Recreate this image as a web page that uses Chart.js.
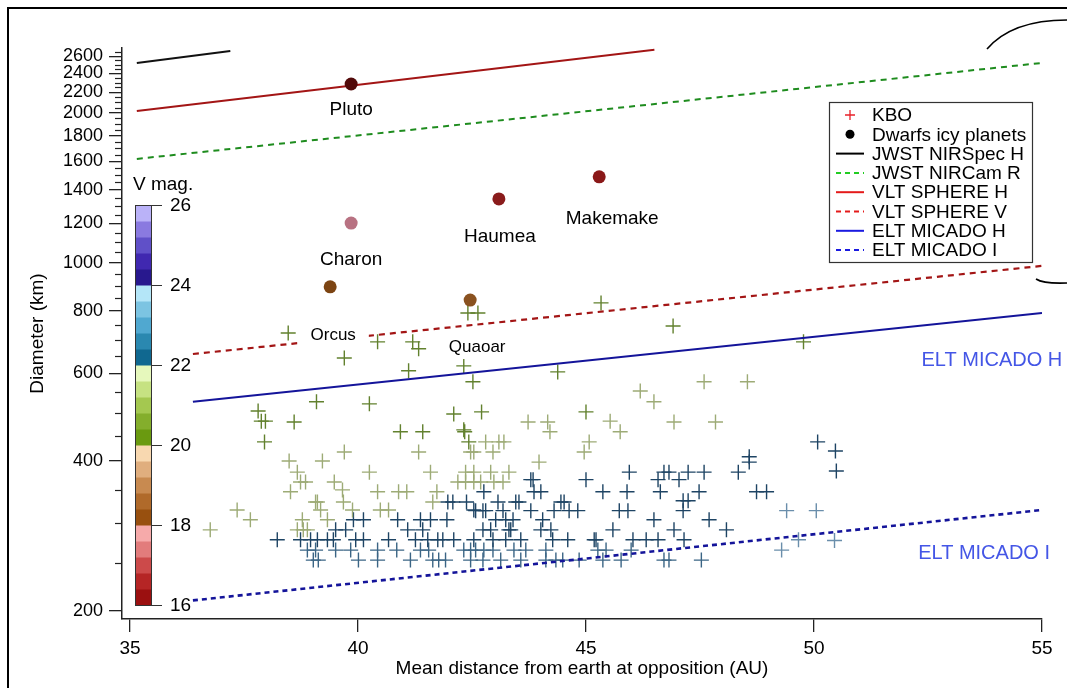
<!DOCTYPE html>
<html>
<head>
<meta charset="utf-8">
<script src="https://cdn.jsdelivr.net/npm/chart.js@4.4.1/dist/chart.umd.min.js"></script>
<style>
    html, body { margin: 0; padding: 0; background: #fff; }
    #wrap { position: relative; width: 1067px; height: 688px; overflow: hidden; }
    #frame { position: absolute; left: 7px; top: 7px; width: 1070px; height: 690px;
             border-left: 2px solid #000; border-top: 2px solid #000; pointer-events: none; }
</style>
</head>
<body>
<div id="wrap">
    <canvas id="graficoKbo" width="1067" height="688" style="width:1067px;height:688px"></canvas>
    <div id="frame"></div>
</div>
<script>
// axis ticks
const xTicks = [35, 40, 45, 50, 55];
const yTickLabels = [200, 400, 600, 800, 1000, 1200, 1400, 1600, 1800, 2000, 2200, 2400, 2600];

// dwarf icy planets: distance (AU), diameter (km)
const dwarfNames = ['Pluto', 'Charon', 'Orcus', 'Quaoar', 'Haumea', 'Makemake'];
const dwarfDist = [39.85, 39.85, 39.39, 42.46, 43.09, 45.29];
const dwarfDiam = [2286, 1202, 895, 842, 1344, 1488];

// detection limits [AU, km] endpoints
const nirspecH = [[35.15, 2520], [37.2, 2664]];
const nircamR = [[35.15, 1617], [55, 2520]];
const sphereH = [[35.15, 2018], [46.5, 2677]];
const sphereV = [[36.38, 656], [55, 986]];
const micadoH = [[36.38, 526], [55, 793]];
const micadoI = [[36.38, 210], [55, 319]];

// KBOs grouped by V magnitude colour band  [AU, km]
const kboOliveDark = [[38.47,723],[40.43,694],[41.20,694],[41.33,672],[39.70,644],[41.11,607],[42.52,577],[39.09,526],[40.25,521],[37.81,504],[37.88,481],[37.97,481],[38.60,479],[42.10,497],[37.95,437],[40.93,458],[41.42,458],[42.32,462],[42.43,437],[42.41,793],[42.63,793],[42.32,621],[45.33,831],[46.91,747],[49.77,694],[44.38,604],[42.71,502],[45.00,502],[42.34,458]];
const kboOlivePale = [[47.59,577],[48.54,577],[46.19,553],[46.49,526],[43.73,479],[44.16,479],[44.21,458],[45.53,481],[45.75,458],[46.93,479],[47.84,479],[42.80,437],[43.09,437],[43.20,437],[45.07,437],[42.47,417],[42.54,417],[39.70,417],[41.33,417],[42.96,417],[44.96,417],[38.49,400],[39.22,400],[43.97,398],[38.67,380],[40.25,380],[41.59,380],[42.36,380],[42.54,380],[42.91,380],[43.31,380],[38.74,363],[38.85,363],[39.48,363],[42.19,363],[42.36,363],[42.54,363],[42.69,363],[42.98,363],[43.18,363],[38.52,347],[39.66,350],[40.43,347],[40.89,347],[41.07,347],[41.73,347],[39.07,331],[39.11,331],[39.68,331],[41.64,331],[39.18,319],[39.88,319],[40.49,319],[40.67,319],[37.35,319],[37.64,305],[36.76,291],[38.78,305],[39.33,305],[38.67,291],[38.80,291],[38.89,291]];
const kboBlueDark = [[41.97,331],[42.08,331],[42.38,331],[42.54,319],[39.90,305],[40.12,305],[40.87,305],[41.37,305],[41.59,305],[41.95,305],[39.51,291],[39.73,291],[41.09,291],[41.42,291],[38.23,278],[38.74,278],[38.96,278],[39.11,278],[39.33,278],[39.46,278],[39.95,278],[40.12,278],[40.67,278],[41.26,278],[41.53,278],[41.75,278],[41.86,278],[42.10,278],[42.54,278],[50.08,437],[48.58,408],[43.79,367],[43.84,367],[45.00,367],[45.95,380],[46.71,380],[46.82,380],[47.24,380],[47.59,380],[48.34,380],[48.58,398],[46.58,367],[47.04,367],[42.76,347],[43.86,347],[44.01,347],[45.37,347],[45.90,347],[46.63,347],[47.48,347],[48.74,347],[48.96,347],[43.07,331],[43.46,331],[43.53,331],[44.45,331],[44.52,331],[47.13,333],[47.24,333],[42.58,318],[42.74,318],[42.80,318],[43.18,318],[43.79,318],[44.30,318],[44.63,318],[44.82,318],[45.73,318],[45.92,318],[47.13,318],[43.02,305],[43.24,305],[43.40,305],[44.05,305],[46.49,305],[47.70,305],[42.74,291],[42.91,291],[43.31,291],[43.35,291],[44.01,291],[44.23,291],[45.59,291],[46.93,291],[48.08,291],[42.96,278],[43.24,278],[43.57,278],[44.27,278],[44.60,278],[45.18,278],[45.22,278],[46.03,278],[46.32,278],[46.58,278],[47.15,278],[50.47,419],[50.49,382]];
const kboBlueMid = [[38.89,265],[39.07,265],[39.51,265],[39.84,265],[40.43,265],[40.85,265],[41.37,265],[41.55,265],[42.32,265],[42.47,265],[39.02,253],[39.13,253],[40.01,253],[40.43,253],[41.15,253],[41.64,253],[41.77,253],[41.92,253],[42.47,253],[42.58,265],[42.76,265],[42.96,265],[43.42,265],[43.68,265],[44.12,265],[45.26,265],[45.44,265],[45.99,265],[42.74,253],[43.13,253],[43.57,253],[44.12,253],[44.34,253],[44.49,253],[44.85,253],[45.37,253],[45.77,253],[46.71,253],[46.82,253],[47.53,253]];
const kboBlueLight = [[49.40,318],[50.05,318],[49.66,278],[50.45,277],[49.29,265]];

// V magnitude colour bar
const colorbarMags = [16, 18, 20, 22, 24, 26];
const colorbarColors = ['#9b1010','#b52525','#cc4a4a','#e27c7c','#f6aaaa',
                        '#98500f','#b06a2a','#c88a50','#e0ae7e','#f8d8b0',
                        '#6a9a10','#84ae2c','#a4c850','#c6e282','#e6f8bc',
                        '#106890','#2a88b0','#50a8d0','#7cc4e2','#b4e6f8',
                        '#28188e','#4028b0','#6050c8','#8a7ae0','#bab2f8'];

const toXY = arr => arr.map(p => ({ x: p[0], y: p[1] }));

Chart.defaults.font.family = "'Liberation Sans', Arial, sans-serif";
Chart.defaults.color = '#000';

const kboSet = (pts, cor) => ({
    data: toXY(pts), pointStyle: 'cross', pointRadius: 7.5,
    borderColor: cor, pointBorderWidth: 1.4, showLine: false
});
const limitSet = (pts, cor, dash, w) => ({
    data: toXY(pts), showLine: true, borderColor: cor, borderWidth: w,
    borderDash: dash, pointRadius: 0, fill: false
});

const datasets = [
    {
        data: dwarfDist.map((d, i) => ({ x: d, y: dwarfDiam[i] })),
        pointStyle: 'circle', pointRadius: 6.5, pointBorderWidth: 0,
        backgroundColor: ['#520a0a', '#b87282', '#7c4412', '#8a5220', '#8a1c1c', '#8a1818'],
        showLine: false
    },
    limitSet(nirspecH, '#111', [], 2),
    limitSet(sphereH, '#a31515', [], 2),
    limitSet(nircamR, '#1e8c1e', [6, 5], 2),
    limitSet(sphereV, '#a31515', [6, 5], 2.2),
    limitSet(micadoH, '#14149a', [], 2),
    limitSet(micadoI, '#14149a', [5, 4], 2.6),
    kboSet(kboOliveDark, '#62812e'),
    kboSet(kboOlivePale, '#9dab76'),
    kboSet(kboBlueDark, '#1e4464'),
    kboSet(kboBlueMid, '#3b6585'),
    kboSet(kboBlueLight, '#6a8eab')
];

// labels of the dwarf planets (offset in px from the dot)
const dwarfLabelOffset = [[0, 26], [0, 37], [3, 48], [7, 47], [1, 38], [13, 42]];
const dwarfLabelSize = [19, 19, 17, 17, 19, 19];
const dwarfLabelBox = [false, false, true, true, false, false];

const legendItems = [
    { label: 'KBO', kind: 'cross', color: '#e8202a' },
    { label: 'Dwarfs icy planets', kind: 'dot', color: '#000' },
    { label: 'JWST NIRSpec H', kind: 'line', color: '#000', dash: [] },
    { label: 'JWST NIRCam R', kind: 'line', color: '#22cc22', dash: [5, 4] },
    { label: 'VLT SPHERE H', kind: 'line', color: '#e41a1a', dash: [] },
    { label: 'VLT SPHERE V', kind: 'line', color: '#e41a1a', dash: [5, 4] },
    { label: 'ELT MICADO H', kind: 'line', color: '#1a1ae0', dash: [] },
    { label: 'ELT MICADO I', kind: 'line', color: '#1a1ae0', dash: [5, 4] }
];

const sideLabels = [
    { text: 'ELT MICADO H', x: 53.9, y: 638 },
    { text: 'ELT MICADO I', x: 53.73, y: 261 }
];

const extras = {
    id: 'extras',
    afterDatasetsDraw(chart) {
        const { ctx, chartArea: a, scales: { x, y } } = chart;
        ctx.save();

        // minor ticks on diameter axis
        ctx.strokeStyle = '#222';
        ctx.lineWidth = 1.2;
        for (let v = 250; v <= 2650; v += 50) {
            if (v % 200 === 0) continue;
            const py = Math.round(y.getPixelForValue(v)) + 0.5;
            ctx.beginPath();
            ctx.moveTo(a.left - 7, py);
            ctx.lineTo(a.left, py);
            ctx.stroke();
        }

        // dwarf labels
        ctx.textAlign = 'center';
        ctx.textBaseline = 'middle';
        dwarfNames.forEach((nome, i) => {
            const px = x.getPixelForValue(dwarfDist[i]) + dwarfLabelOffset[i][0];
            const py = y.getPixelForValue(dwarfDiam[i]) + dwarfLabelOffset[i][1];
            ctx.font = dwarfLabelSize[i] + "px 'Liberation Sans', Arial, sans-serif";
            if (dwarfLabelBox[i]) {
                const w = ctx.measureText(nome).width + 26;
                ctx.fillStyle = '#fff';
                ctx.fillRect(px - w / 2, py - 12, w, 24);
            }
            ctx.fillStyle = '#000';
            ctx.fillText(nome, px, py);
        });

        // side labels
        ctx.font = "20px 'Liberation Sans', Arial, sans-serif";
        ctx.fillStyle = '#4456e6';
        sideLabels.forEach(s => {
            ctx.fillText(s.text, x.getPixelForValue(s.x), y.getPixelForValue(s.y));
        });

        // colour bar
        const cbTop = a.top + 157, cbBot = a.top + 557, cbLeft = a.left + 13, cbW = 16;
        const magY = m => cbBot - (m - colorbarMags[0]) / (colorbarMags[colorbarMags.length - 1] - colorbarMags[0]) * (cbBot - cbTop);
        const passo = (colorbarMags[colorbarMags.length - 1] - colorbarMags[0]) / colorbarColors.length;
        colorbarColors.forEach((c, i) => {
            const m0 = colorbarMags[0] + i * passo;
            const y0 = magY(m0 + passo), y1 = magY(m0);
            ctx.fillStyle = c;
            ctx.fillRect(cbLeft, y0, cbW, y1 - y0 + 0.5);
        });
        ctx.strokeStyle = '#333';
        ctx.lineWidth = 1;
        ctx.strokeRect(cbLeft + 0.5, cbTop + 0.5, cbW, cbBot - cbTop);
        ctx.font = "19px 'Liberation Sans', Arial, sans-serif";
        ctx.fillStyle = '#000';
        ctx.textAlign = 'left';
        colorbarMags.forEach(m => {
            const py = Math.round(magY(m)) + 0.5;
            ctx.beginPath();
            ctx.moveTo(cbLeft + cbW, py);
            ctx.lineTo(cbLeft + cbW + 11, py);
            ctx.stroke();
            ctx.fillText(String(m), cbLeft + cbW + 19, py);
        });
        ctx.fillText('V mag.', cbLeft - 2, cbTop - 20);

        // legend box
        const lx = a.right - 213, ly = a.top + 54, lw = 203, lh = 160;
        ctx.fillStyle = '#fff';
        ctx.fillRect(lx, ly, lw, lh);
        ctx.strokeStyle = '#333';
        ctx.lineWidth = 1.2;
        ctx.strokeRect(lx + 0.5, ly + 0.5, lw, lh);
        ctx.font = "19px 'Liberation Sans', Arial, sans-serif";
        legendItems.forEach((it, i) => {
            const cy = ly + 13 + i * 19.3;
            const sx0 = lx + 7, sx1 = lx + 35, sc = (sx0 + sx1) / 2;
            ctx.strokeStyle = it.color;
            ctx.fillStyle = it.color;
            ctx.lineWidth = 2;
            ctx.setLineDash(it.dash || []);
            if (it.kind === 'line') {
                ctx.beginPath(); ctx.moveTo(sx0, cy); ctx.lineTo(sx1, cy); ctx.stroke();
            } else if (it.kind === 'cross') {
                ctx.lineWidth = 1.3;
                ctx.beginPath();
                ctx.moveTo(sc - 5, cy); ctx.lineTo(sc + 5, cy);
                ctx.moveTo(sc, cy - 5); ctx.lineTo(sc, cy + 5);
                ctx.stroke();
            } else {
                ctx.beginPath(); ctx.arc(sc, cy, 4.5, 0, Math.PI * 2); ctx.fill();
            }
            ctx.setLineDash([]);
            ctx.fillStyle = '#000';
            ctx.fillText(it.label, lx + 43, cy + 1);
        });

        // stray arcs at the right edge of the figure
        ctx.strokeStyle = '#000';
        ctx.lineWidth = 1.6;
        ctx.beginPath();
        ctx.moveTo(a.right - 55, a.top + 1);
        ctx.quadraticCurveTo(a.right - 30, a.top - 28, a.right + 25, a.top - 28);
        ctx.stroke();
        ctx.beginPath();
        ctx.moveTo(a.right - 6, a.top + 231);
        ctx.quadraticCurveTo(a.right + 2, a.top + 236, a.right + 25, a.top + 235);
        ctx.stroke();
        ctx.restore();
    }
};

const ctx = document.getElementById('graficoKbo').getContext('2d');

new Chart(ctx, {
    type: 'scatter',
    data: { datasets },
    options: {
        responsive: false,
        animation: false,
        layout: { padding: { top: 48, right: 25, left: 0, bottom: 0 } },
        plugins: {
            legend: { display: false },
            tooltip: { enabled: false }
        },
        scales: {
            x: {
                type: 'linear',
                min: 34.825,
                max: 55,
                afterBuildTicks: s => { s.ticks = xTicks.map(v => ({ value: v })); },
                afterFit: s => { s.height = 69; },
                grid: { drawOnChartArea: false, tickLength: 13, color: '#222', lineWidth: 1.3 },
                border: { color: '#222', width: 1.5 },
                ticks: { padding: 5, color: '#000', font: { size: 19 }, maxRotation: 0, autoSkip: false },
                title: {
                    display: true,
                    text: 'Mean distance from earth at opposition (AU)',
                    color: '#000',
                    font: { size: 19 },
                    padding: { top: 0, bottom: 8 }
                }
            },
            y: {
                type: 'logarithmic',
                min: 192.7,
                max: 2700,
                afterBuildTicks: s => { s.ticks = yTickLabels.map(v => ({ value: v })); },
                afterFit: s => { s.width = 122; },
                grid: { drawOnChartArea: false, tickLength: 13, color: '#222', lineWidth: 1.3 },
                border: { color: '#222', width: 1.5 },
                ticks: { padding: 6, color: '#000', font: { size: 18 }, autoSkip: false, callback: v => String(v) },
                title: {
                    display: true,
                    text: 'Diameter (km)',
                    color: '#000',
                    font: { size: 19 },
                    padding: { top: 26, bottom: 0 }
                }
            }
        }
    },
    plugins: [extras]
});
</script>
</body>
</html>
